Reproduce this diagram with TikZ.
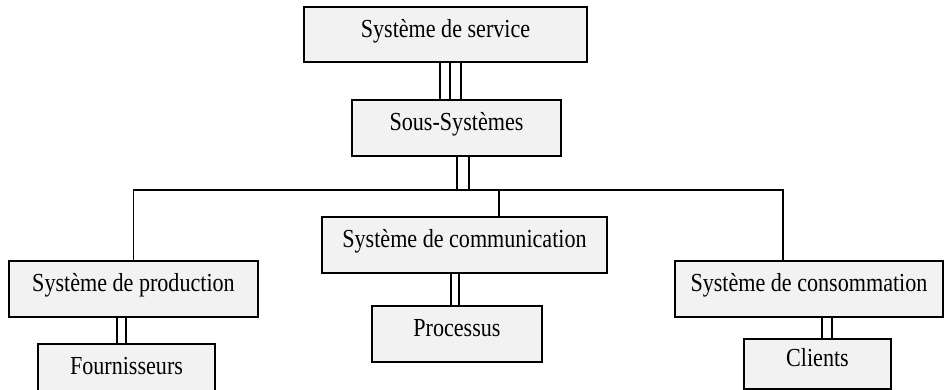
\documentclass[tikz,border=0pt]{standalone}
\usepackage{fontspec}
\setmainfont{Liberation Serif}[FakeStretch=0.85]
\usetikzlibrary{positioning}
\definecolor{boxgray}{RGB}{242,242,242}

\begin{document}
\begin{tikzpicture}[
                x=1pt, y=-1pt,
                line width=1.2pt,
                sysbox/.style={shape=rectangle, fill=boxgray, draw=black, line width=1.2pt,
                  font=\fontsize{26}{30}\selectfont, text height=18pt, text depth=12.6pt,
                  minimum height=56pt, inner sep=0pt}
                ]
                \useasboundingbox (0,0) rectangle (944,390);

                %% Boxes
                \node[sysbox, minimum width=283pt, minimum height=55pt] (service) at (445.5,34.5) {Système de service};
                \node[sysbox, minimum width=209pt] (sous) at (456.5,128) {Sous-Systèmes};
                \node[sysbox, minimum width=249pt] (prod) at (133.5,289) {Système de production};
                \node[sysbox, minimum width=285pt] (comm) at (464.5,245) {Système de communication};
                \node[sysbox, minimum width=268pt] (cons) at (809,289) {Système de consommation};
                \node[sysbox, minimum width=177pt] (four) at (126.5,372) {Fournisseurs};
                \node[sysbox, minimum width=170pt] (proc) at (457,334) {Processus};
                \node[sysbox, minimum width=147pt, minimum height=50pt] (clients) at (817.5,364) {Clients};

                \coordinate (bar) at (499,190);

                %% Links
                \foreach \dx in {-5.5,4.5,15.5}
                  \draw ([xshift=\dx pt]service.south) -- ([xshift=\dx pt]service.south |- sous.north);
                \foreach \dx in {0.5,12.5}
                  \draw ([xshift=\dx pt]sous.south) -- ([xshift=\dx pt]sous.south |- bar);

                \draw (prod.north) |- (bar) -| ([xshift=-26pt]cons.north);
                \draw (bar) -- (bar |- comm.north);

                \foreach \dx in {-16.5,-7.5}
                  \draw ([xshift=\dx pt]prod.south) -- ([xshift=\dx pt]prod.south |- four.north);
                \foreach \dx in {-13.5,-5.5}
                  \draw ([xshift=\dx pt]comm.south) -- ([xshift=\dx pt]comm.south |- proc.north);
                \foreach \dx in {13,23}
                  \draw ([xshift=\dx pt]cons.south) -- ([xshift=\dx pt]cons.south |- clients.north);
\end{tikzpicture}
\end{document}
